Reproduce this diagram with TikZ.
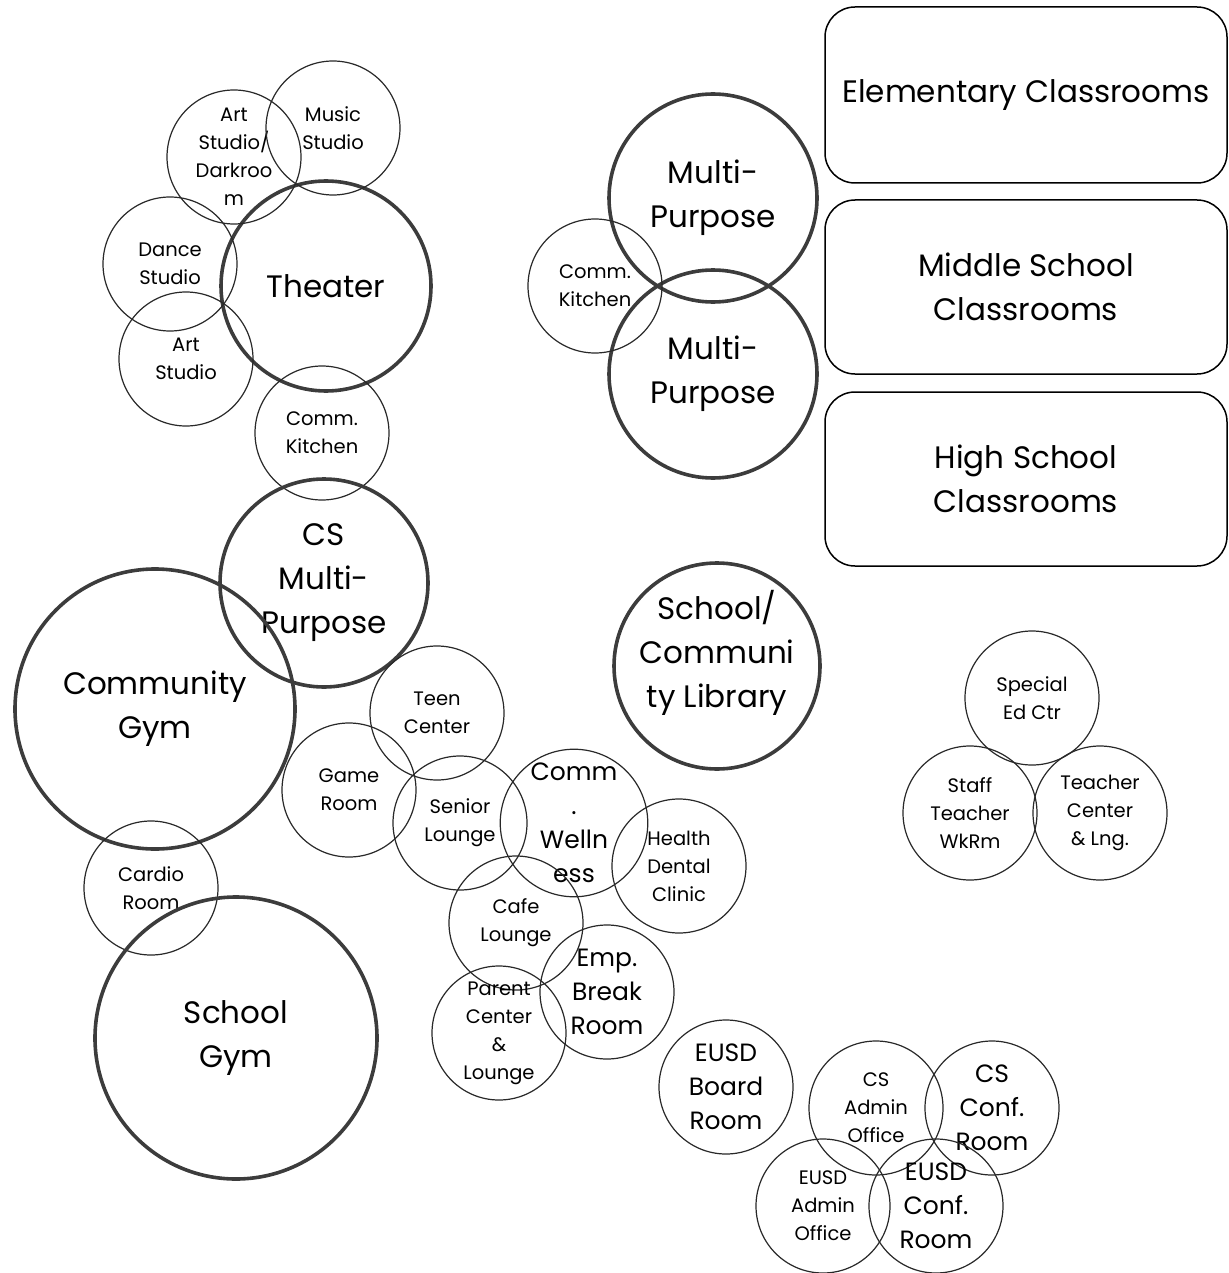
\documentclass[tikz,border=0pt]{standalone}
\usepackage{fontspec}
\setmainfont{Poppins}
\usepackage{tikz}
\usetikzlibrary{positioning}
\definecolor{rimbig}{RGB}{60,60,60}
\definecolor{rimsmall}{RGB}{40,40,40}

\begin{document}
\begin{tikzpicture}[x=1pt,y=-1pt,
  bigroom/.style={circle,draw=rimbig,line width=3.6pt,inner sep=0pt,align=center,
                  font=\fontsize{31}{44}\selectfont},
  room/.style={circle,draw=rimsmall,line width=1.2pt,inner sep=0pt,align=center,
               minimum size=134pt,font=\fontsize{19.5}{28}\selectfont},
  midroom/.style={room,font=\fontsize{25}{34}\selectfont},
  classbox/.style={draw=black,line width=1.5pt,rounded corners=30pt,align=center,
                   minimum width=402pt,minimum height=176pt,font=\fontsize{31}{44}\selectfont}]
\useasboundingbox (0,0) rectangle (1228,1273);
% classroom wings
\node[classbox] (elem) at (1026,95) {Elementary Classrooms};
\node[classbox,minimum height=174pt] (middle) at (1026,287) {Middle School\\Classrooms};
\node[classbox,minimum height=174pt] (high) at (1026,479) {High School\\Classrooms};
% arts
\node[bigroom,minimum size=210pt] (theater) at (326,286) {Theater};
\node[room] (darkroom) at (234,157) {Art\\Studio/\\Darkroo\\m};
\node[room] (music) at (333,128) {Music\\Studio};
\node[room] (dance) at (170,264) {Dance\\Studio};
\node[room] (art) at (186,359) {Art\\Studio};
\node[room] (kitchenA) at (322,433) {Comm.\\Kitchen};
% multi-purpose
\node[bigroom,minimum size=208pt] (mpA) at (713,198) {Multi-\\Purpose};
\node[bigroom,minimum size=208pt] (mpB) at (713,374) {Multi-\\Purpose};
\node[room] (kitchenB) at (595,286) {Comm.\\Kitchen};
% community
\node[bigroom,minimum size=208pt] (csmp) at (324,583) {CS\\Multi-\\Purpose};
\node[bigroom,minimum size=280pt] (cgym) at (155,709) {Community\\Gym};
\node[room] (cardio) at (151,888) {Cardio\\Room};
\node[bigroom,minimum size=282pt] (sgym) at (236,1038) {School\\Gym};
\node[bigroom,minimum size=206pt,
      label={[align=center,font=\fontsize{31}{44}\selectfont,yshift=13pt]center:{School/\\Communi\\ty Library}}]
      (library) at (717,666) {};
% lounges
\node[room] (teen) at (437,713) {Teen\\Center};
\node[room] (game) at (349,790) {Game\\Room};
\node[room] (senior) at (460,823) {Senior\\Lounge};
\node[midroom] (wellness) at (574,823) {Comm\\.\\Welln\\ess};
\node[room] (clinic) at (679,866) {Health\\Dental\\Clinic};
\node[room] (cafe) at (516,923) {Cafe\\Lounge};
\node[midroom] (breakrm) at (607,992) {Emp.\\Break\\Room};
\node[room] (parent) at (499,1033) {Parent\\Center\\\&\\Lounge};
% staff
\node[room] (speced) at (1032,698) {Special\\Ed Ctr};
\node[room] (workrm) at (970,813) {Staff\\Teacher\\WkRm};
\node[room] (tcenter) at (1100,813) {Teacher\\Center\\\& Lng.};
% admin
\node[midroom] (board) at (726,1087) {EUSD\\Board\\Room};
\node[room] (csadmin) at (876,1108) {CS\\Admin\\Office};
\node[midroom] (csconf) at (992,1108) {CS\\Conf.\\Room};
\node[room] (eusdadmin) at (823,1206) {EUSD\\Admin\\Office};
\node[midroom] (eusdconf) at (936,1206) {EUSD\\Conf.\\Room};
\end{tikzpicture}
\end{document}
